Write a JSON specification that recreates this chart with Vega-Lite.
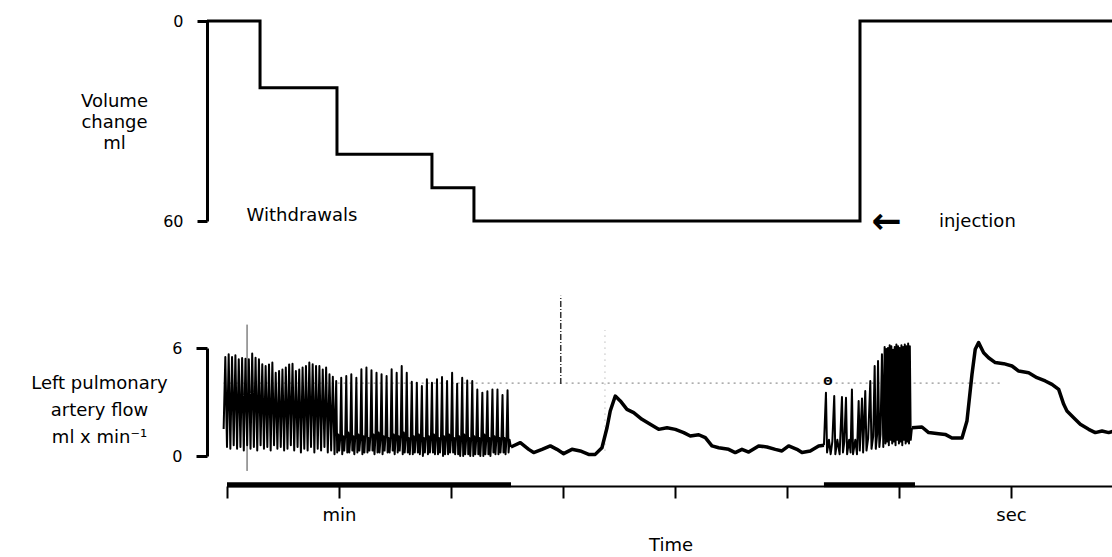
{
"$schema":"https://vega.github.io/schema/vega-lite/v6.json",
"background":"white",
"padding":{"left":30,"top":13,"right":0,"bottom":0},
"bounds":"flush",
"spacing":127,
"config":{"view":{"stroke":null},"font":"DejaVu Sans","axis":{"grid":false,"domainColor":"black","tickColor":"black","labelColor":"black","titleColor":"black","labelFont":"DejaVu Sans","titleFont":"DejaVu Sans"},"text":{"font":"DejaVu Sans","color":"black"}},
"datasets":{
"volume":[{"t":-1.79,"volume":0},{"t":2.95,"volume":20},{"t":9.82,"volume":40},{"t":18.3,"volume":50},{"t":22.05,"volume":60},{"t":56.52,"volume":0},{"t":79.2,"volume":0}],
"pulsatile":[
{"seg":"a","t":-0.3,"flow":1.5},{"seg":"a","t":-0.15,"flow":5.5},{"seg":"a","t":0,"flow":0.5},{"seg":"a","t":0.15,"flow":5.65},{"seg":"a","t":0.3,"flow":0.4},{"seg":"a","t":0.45,"flow":5.5},{"seg":"a","t":0.6,"flow":0.6},{"seg":"a","t":0.75,"flow":5.6},{"seg":"a","t":0.9,"flow":0.4},{"seg":"a","t":1.05,"flow":5.37},{"seg":"a","t":1.2,"flow":0.5},{"seg":"a","t":1.35,"flow":5.45},{"seg":"a","t":1.5,"flow":0.3},{"seg":"a","t":1.65,"flow":5.4},{"seg":"a","t":1.8,"flow":0.6},{"seg":"a","t":1.95,"flow":5.37},{"seg":"a","t":2.1,"flow":0.4},{"seg":"a","t":2.25,"flow":5.7},{"seg":"a","t":2.4,"flow":0.5},{"seg":"a","t":2.55,"flow":5.46},{"seg":"a","t":2.7,"flow":0.3},{"seg":"a","t":2.85,"flow":5.37},{"seg":"a","t":3.0,"flow":0.6},{"seg":"a","t":3.15,"flow":5.1},{"seg":"a","t":3.3,"flow":0.4},{"seg":"a","t":3.45,"flow":5.0},{"seg":"a","t":3.6,"flow":0.5},{"seg":"a","t":3.75,"flow":5.09},{"seg":"a","t":3.9,"flow":0.3},{"seg":"a","t":4.05,"flow":5.19},{"seg":"a","t":4.2,"flow":0.6},{"seg":"a","t":4.35,"flow":4.63},{"seg":"a","t":4.5,"flow":0.4},{"seg":"a","t":4.65,"flow":4.72},{"seg":"a","t":4.8,"flow":0.5},{"seg":"a","t":4.95,"flow":4.8},{"seg":"a","t":5.1,"flow":0.3},{"seg":"a","t":5.25,"flow":4.91},{"seg":"a","t":5.4,"flow":0.4},{"seg":"a","t":5.55,"flow":5.09},{"seg":"a","t":5.7,"flow":0.6},{"seg":"a","t":5.85,"flow":5.13},{"seg":"a","t":6.0,"flow":0.3},{"seg":"a","t":6.15,"flow":4.72},{"seg":"a","t":6.3,"flow":0.5},{"seg":"a","t":6.45,"flow":4.8},{"seg":"a","t":6.6,"flow":0.2},{"seg":"a","t":6.75,"flow":4.91},{"seg":"a","t":6.9,"flow":0.4},{"seg":"a","t":7.05,"flow":5.0},{"seg":"a","t":7.2,"flow":0.3},{"seg":"a","t":7.35,"flow":5.19},{"seg":"a","t":7.5,"flow":0.5},{"seg":"a","t":7.65,"flow":5.1},{"seg":"a","t":7.8,"flow":0.2},{"seg":"a","t":7.95,"flow":5.0},{"seg":"a","t":8.1,"flow":0.4},{"seg":"a","t":8.25,"flow":5.0},{"seg":"a","t":8.4,"flow":0.3},{"seg":"a","t":8.55,"flow":4.8},{"seg":"a","t":8.7,"flow":0.5},{"seg":"a","t":8.85,"flow":4.91},{"seg":"a","t":9.0,"flow":0.2},{"seg":"a","t":9.15,"flow":4.54},{"seg":"a","t":9.3,"flow":0.3},{"seg":"a","t":9.45,"flow":4.4},{"seg":"a","t":9.6,"flow":0.1},
{"seg":"a","t":9.75,"flow":4.17},{"seg":"a","t":9.84,"flow":0.2},{"seg":"a","t":9.93,"flow":1.2},{"seg":"a","t":10.02,"flow":0.3},{"seg":"a","t":10.11,"flow":1.0},
{"seg":"a","t":10.2,"flow":4.35},{"seg":"a","t":10.29,"flow":0.1},{"seg":"a","t":10.38,"flow":1.1},{"seg":"a","t":10.47,"flow":0.3},{"seg":"a","t":10.56,"flow":1.2},
{"seg":"a","t":10.65,"flow":4.45},{"seg":"a","t":10.74,"flow":0.2},{"seg":"a","t":10.83,"flow":1.3},{"seg":"a","t":10.92,"flow":0.2},{"seg":"a","t":11.01,"flow":1.0},
{"seg":"a","t":11.1,"flow":4.54},{"seg":"a","t":11.19,"flow":0.3},{"seg":"a","t":11.28,"flow":1.1},{"seg":"a","t":11.37,"flow":0.1},{"seg":"a","t":11.46,"flow":1.2},
{"seg":"a","t":11.55,"flow":4.35},{"seg":"a","t":11.64,"flow":0.2},{"seg":"a","t":11.73,"flow":1.2},{"seg":"a","t":11.82,"flow":0.3},{"seg":"a","t":11.91,"flow":1.0},
{"seg":"a","t":12.0,"flow":4.82},{"seg":"a","t":12.09,"flow":0.1},{"seg":"a","t":12.18,"flow":1.1},{"seg":"a","t":12.27,"flow":0.2},{"seg":"a","t":12.36,"flow":1.3},
{"seg":"a","t":12.45,"flow":4.91},{"seg":"a","t":12.54,"flow":0.2},{"seg":"a","t":12.63,"flow":1.0},{"seg":"a","t":12.72,"flow":0.3},{"seg":"a","t":12.81,"flow":1.2},
{"seg":"a","t":12.9,"flow":4.76},{"seg":"a","t":12.99,"flow":0.3},{"seg":"a","t":13.08,"flow":1.2},{"seg":"a","t":13.17,"flow":0.1},{"seg":"a","t":13.26,"flow":1.1},
{"seg":"a","t":13.35,"flow":4.63},{"seg":"a","t":13.44,"flow":0.2},{"seg":"a","t":13.53,"flow":1.3},{"seg":"a","t":13.62,"flow":0.2},{"seg":"a","t":13.71,"flow":1.0},
{"seg":"a","t":13.8,"flow":4.54},{"seg":"a","t":13.89,"flow":0.1},{"seg":"a","t":13.98,"flow":1.1},{"seg":"a","t":14.07,"flow":0.3},{"seg":"a","t":14.16,"flow":1.2},
{"seg":"a","t":14.25,"flow":4.44},{"seg":"a","t":14.34,"flow":0.2},{"seg":"a","t":14.43,"flow":1.0},{"seg":"a","t":14.52,"flow":0.2},{"seg":"a","t":14.61,"flow":1.1},
{"seg":"a","t":14.7,"flow":4.82},{"seg":"a","t":14.79,"flow":0.3},{"seg":"a","t":14.88,"flow":1.2},{"seg":"a","t":14.97,"flow":0.1},{"seg":"a","t":15.06,"flow":1.0},
{"seg":"a","t":15.15,"flow":4.63},{"seg":"a","t":15.24,"flow":0.2},{"seg":"a","t":15.33,"flow":1.1},{"seg":"a","t":15.42,"flow":0.3},{"seg":"a","t":15.51,"flow":1.2},
{"seg":"a","t":15.6,"flow":5.0},{"seg":"a","t":15.69,"flow":0.1},{"seg":"a","t":15.78,"flow":1.3},{"seg":"a","t":15.87,"flow":0.2},{"seg":"a","t":15.96,"flow":1.0},
{"seg":"a","t":16.05,"flow":4.63},{"seg":"a","t":16.14,"flow":0.2},{"seg":"a","t":16.23,"flow":1.0},{"seg":"a","t":16.32,"flow":0.1},{"seg":"a","t":16.41,"flow":1.1},
{"seg":"a","t":16.5,"flow":4.13},{"seg":"a","t":16.59,"flow":0.1},{"seg":"a","t":16.68,"flow":1.1},{"seg":"a","t":16.77,"flow":0.2},{"seg":"a","t":16.86,"flow":1.0},
{"seg":"a","t":16.95,"flow":4.07},{"seg":"a","t":17.04,"flow":0.2},{"seg":"a","t":17.13,"flow":1.2},{"seg":"a","t":17.22,"flow":0.1},{"seg":"a","t":17.31,"flow":1.0},
{"seg":"a","t":17.4,"flow":3.89},{"seg":"a","t":17.49,"flow":0.0},{"seg":"a","t":17.58,"flow":1.0},{"seg":"a","t":17.67,"flow":0.2},{"seg":"a","t":17.76,"flow":1.1},
{"seg":"a","t":17.85,"flow":4.26},{"seg":"a","t":17.94,"flow":0.1},{"seg":"a","t":18.03,"flow":1.1},{"seg":"a","t":18.12,"flow":0.2},{"seg":"a","t":18.21,"flow":1.0},
{"seg":"a","t":18.3,"flow":4.07},{"seg":"a","t":18.39,"flow":0.2},{"seg":"a","t":18.48,"flow":1.2},{"seg":"a","t":18.57,"flow":0.1},{"seg":"a","t":18.66,"flow":1.0},
{"seg":"a","t":18.75,"flow":4.26},{"seg":"a","t":18.84,"flow":0.1},{"seg":"a","t":18.93,"flow":1.0},{"seg":"a","t":19.02,"flow":0.2},{"seg":"a","t":19.11,"flow":1.1},
{"seg":"a","t":19.2,"flow":4.39},{"seg":"a","t":19.29,"flow":0.0},{"seg":"a","t":19.38,"flow":1.1},{"seg":"a","t":19.47,"flow":0.1},{"seg":"a","t":19.56,"flow":1.0},
{"seg":"a","t":19.65,"flow":4.17},{"seg":"a","t":19.74,"flow":0.1},{"seg":"a","t":19.83,"flow":1.2},{"seg":"a","t":19.92,"flow":0.2},{"seg":"a","t":20.01,"flow":1.0},
{"seg":"a","t":20.1,"flow":4.63},{"seg":"a","t":20.19,"flow":0.2},{"seg":"a","t":20.28,"flow":1.0},{"seg":"a","t":20.37,"flow":0.1},{"seg":"a","t":20.46,"flow":1.1},
{"seg":"a","t":20.55,"flow":4.02},{"seg":"a","t":20.64,"flow":0.1},{"seg":"a","t":20.73,"flow":1.1},{"seg":"a","t":20.82,"flow":0.0},{"seg":"a","t":20.91,"flow":1.0},
{"seg":"a","t":21.0,"flow":4.35},{"seg":"a","t":21.09,"flow":0.0},{"seg":"a","t":21.18,"flow":1.2},{"seg":"a","t":21.27,"flow":0.1},{"seg":"a","t":21.36,"flow":1.0},
{"seg":"a","t":21.45,"flow":4.2},{"seg":"a","t":21.54,"flow":0.1},{"seg":"a","t":21.63,"flow":1.0},{"seg":"a","t":21.72,"flow":0.0},{"seg":"a","t":21.81,"flow":1.1},
{"seg":"a","t":21.9,"flow":4.17},{"seg":"a","t":21.99,"flow":0.0},{"seg":"a","t":22.08,"flow":1.1},{"seg":"a","t":22.17,"flow":0.1},{"seg":"a","t":22.26,"flow":1.0},
{"seg":"a","t":22.35,"flow":3.7},{"seg":"a","t":22.44,"flow":0.1},{"seg":"a","t":22.53,"flow":1.0},{"seg":"a","t":22.62,"flow":0.0},{"seg":"a","t":22.71,"flow":1.1},
{"seg":"a","t":22.8,"flow":3.52},{"seg":"a","t":22.89,"flow":0.0},{"seg":"a","t":22.98,"flow":1.2},{"seg":"a","t":23.07,"flow":0.1},{"seg":"a","t":23.16,"flow":1.0},
{"seg":"a","t":23.25,"flow":3.6},{"seg":"a","t":23.34,"flow":0.1},{"seg":"a","t":23.43,"flow":1.0},{"seg":"a","t":23.52,"flow":0.0},{"seg":"a","t":23.61,"flow":1.1},
{"seg":"a","t":23.7,"flow":3.7},{"seg":"a","t":23.79,"flow":0.2},{"seg":"a","t":23.88,"flow":1.1},{"seg":"a","t":23.97,"flow":0.1},{"seg":"a","t":24.06,"flow":1.0},
{"seg":"a","t":24.15,"flow":3.7},{"seg":"a","t":24.24,"flow":0.1},{"seg":"a","t":24.33,"flow":1.0},{"seg":"a","t":24.42,"flow":0.2},{"seg":"a","t":24.51,"flow":1.1},
{"seg":"a","t":24.6,"flow":3.39},{"seg":"a","t":24.69,"flow":0.2},{"seg":"a","t":24.78,"flow":1.0},{"seg":"a","t":24.87,"flow":0.1},{"seg":"a","t":24.96,"flow":1.0},
{"seg":"a","t":25.05,"flow":3.65},{"seg":"a","t":25.14,"flow":0.2},{"seg":"a","t":25.23,"flow":0.9},{"seg":"a","t":25.35,"flow":0.5},
{"seg":"c","t":53.3,"flow":0.6},{"seg":"c","t":53.48,"flow":3.52},{"seg":"c","t":53.58,"flow":0.2},{"seg":"c","t":53.75,"flow":0.9},{"seg":"c","t":53.9,"flow":0.1},{"seg":"c","t":54.05,"flow":0.8},{"seg":"c","t":54.22,"flow":3.33},{"seg":"c","t":54.32,"flow":0.1},{"seg":"c","t":54.5,"flow":0.9},{"seg":"c","t":54.7,"flow":0.1},{"seg":"c","t":54.91,"flow":3.28},{"seg":"c","t":55.0,"flow":0.2},{"seg":"c","t":55.12,"flow":0.8},{"seg":"c","t":55.27,"flow":3.24},{"seg":"c","t":55.37,"flow":0.1},{"seg":"c","t":55.55,"flow":0.9},{"seg":"c","t":55.68,"flow":0.2},{"seg":"c","t":55.8,"flow":3.7},{"seg":"c","t":55.9,"flow":0.1},{"seg":"c","t":56.1,"flow":0.9},{"seg":"c","t":56.25,"flow":0.1},{"seg":"c","t":56.4,"flow":3.06},{"seg":"c","t":56.5,"flow":0.3},{"seg":"c","t":56.7,"flow":3.2},{"seg":"c","t":56.8,"flow":0.2},{"seg":"c","t":56.99,"flow":3.61},{"seg":"c","t":57.1,"flow":0.3},{"seg":"c","t":57.25,"flow":1.0},{"seg":"c","t":57.44,"flow":4.17},{"seg":"c","t":57.55,"flow":0.4},{"seg":"c","t":57.7,"flow":1.1},{"seg":"c","t":57.83,"flow":5.0},{"seg":"c","t":57.93,"flow":0.4},{"seg":"c","t":58.05,"flow":1.2},{"seg":"c","t":58.13,"flow":5.28},{"seg":"c","t":58.25,"flow":0.5},{"seg":"c","t":58.35,"flow":1.2},{"seg":"c","t":58.48,"flow":5.65},{"seg":"c","t":58.6,"flow":0.5},
{"seg":"c","t":58.72,"flow":6.06},{"seg":"c","t":58.795,"flow":0.7},{"seg":"c","t":58.87,"flow":5.95},{"seg":"c","t":58.945,"flow":0.8},{"seg":"c","t":59.02,"flow":6.0},{"seg":"c","t":59.095,"flow":0.6},{"seg":"c","t":59.17,"flow":6.15},{"seg":"c","t":59.245,"flow":0.9},{"seg":"c","t":59.32,"flow":6.1},{"seg":"c","t":59.395,"flow":0.7},{"seg":"c","t":59.47,"flow":5.9},{"seg":"c","t":59.545,"flow":0.8},{"seg":"c","t":59.62,"flow":6.05},{"seg":"c","t":59.695,"flow":0.6},{"seg":"c","t":59.77,"flow":6.2},{"seg":"c","t":59.845,"flow":0.9},{"seg":"c","t":59.92,"flow":6.1},{"seg":"c","t":59.995,"flow":0.7},{"seg":"c","t":60.07,"flow":6.0},{"seg":"c","t":60.145,"flow":0.8},{"seg":"c","t":60.22,"flow":6.15},{"seg":"c","t":60.295,"flow":0.6},{"seg":"c","t":60.37,"flow":6.05},{"seg":"c","t":60.445,"flow":0.9},{"seg":"c","t":60.52,"flow":6.2},{"seg":"c","t":60.595,"flow":0.7},{"seg":"c","t":60.67,"flow":6.1},{"seg":"c","t":60.745,"flow":0.8},{"seg":"c","t":60.82,"flow":6.25},{"seg":"c","t":60.895,"flow":0.7},{"seg":"c","t":60.97,"flow":6.1},{"seg":"c","t":61.05,"flow":0.9},{"seg":"c","t":61.16,"flow":1.57}
],
"steady":[
{"seg":"b","t":25.35,"flow":0.5},{"seg":"b","t":26.19,"flow":0.74},{"seg":"b","t":26.94,"flow":0.37},{"seg":"b","t":27.38,"flow":0.19},{"seg":"b","t":28.13,"flow":0.37},{"seg":"b","t":28.87,"flow":0.56},{"seg":"b","t":29.46,"flow":0.37},{"seg":"b","t":30.06,"flow":0.13},{"seg":"b","t":30.8,"flow":0.37},{"seg":"b","t":31.54,"flow":0.28},{"seg":"b","t":32.29,"flow":0.09},{"seg":"b","t":32.88,"flow":0.09},{"seg":"b","t":33.48,"flow":0.46},{"seg":"b","t":33.93,"flow":1.57},{"seg":"b","t":34.22,"flow":2.5},{"seg":"b","t":34.67,"flow":3.33},{"seg":"b","t":35.12,"flow":3.06},{"seg":"b","t":35.71,"flow":2.59},{"seg":"b","t":36.31,"flow":2.41},{"seg":"b","t":37.05,"flow":2.04},{"seg":"b","t":37.79,"flow":1.76},{"seg":"b","t":38.54,"flow":1.48},{"seg":"b","t":39.29,"flow":1.57},{"seg":"b","t":40.03,"flow":1.48},{"seg":"b","t":40.78,"flow":1.3},{"seg":"b","t":41.37,"flow":1.11},{"seg":"b","t":42.12,"flow":1.18},{"seg":"b","t":42.71,"flow":1.02},{"seg":"b","t":43.3,"flow":0.56},{"seg":"b","t":43.9,"flow":0.46},{"seg":"b","t":44.79,"flow":0.37},{"seg":"b","t":45.38,"flow":0.19},{"seg":"b","t":45.98,"flow":0.37},{"seg":"b","t":46.58,"flow":0.22},{"seg":"b","t":47.47,"flow":0.56},{"seg":"b","t":48.21,"flow":0.5},{"seg":"b","t":48.96,"flow":0.37},{"seg":"b","t":49.55,"flow":0.28},{"seg":"b","t":50.15,"flow":0.56},{"seg":"b","t":50.89,"flow":0.37},{"seg":"b","t":51.34,"flow":0.19},{"seg":"b","t":52.08,"flow":0.28},{"seg":"b","t":52.83,"flow":0.56},{"seg":"b","t":53.3,"flow":0.6},
{"seg":"d","t":61.16,"flow":1.57},{"seg":"d","t":62.05,"flow":1.61},{"seg":"d","t":62.65,"flow":1.3},{"seg":"d","t":63.54,"flow":1.24},{"seg":"d","t":64.13,"flow":1.2},{"seg":"d","t":64.73,"flow":1.0},{"seg":"d","t":65.63,"flow":1.0},{"seg":"d","t":66.07,"flow":1.94},{"seg":"d","t":66.52,"flow":4.54},{"seg":"d","t":66.81,"flow":5.93},{"seg":"d","t":67.11,"flow":6.3},{"seg":"d","t":67.56,"flow":5.74},{"seg":"d","t":68.0,"flow":5.46},{"seg":"d","t":68.6,"flow":5.19},{"seg":"d","t":69.35,"flow":5.13},{"seg":"d","t":70.09,"flow":5.0},{"seg":"d","t":70.69,"flow":4.72},{"seg":"d","t":71.58,"flow":4.63},{"seg":"d","t":72.32,"flow":4.35},{"seg":"d","t":73.06,"flow":4.17},{"seg":"d","t":73.66,"flow":3.98},{"seg":"d","t":74.26,"flow":3.7},{"seg":"d","t":74.71,"flow":2.87},{"seg":"d","t":75.0,"flow":2.5},{"seg":"d","t":75.6,"flow":2.13},{"seg":"d","t":76.19,"flow":1.76},{"seg":"d","t":76.94,"flow":1.48},{"seg":"d","t":77.53,"flow":1.3},{"seg":"d","t":78.13,"flow":1.39},{"seg":"d","t":78.72,"flow":1.3},{"seg":"d","t":79.2,"flow":1.39}
]
},
"vconcat":[
{"width":887,"height":200,
 "encoding":{
  "x":{"field":"t","type":"quantitative","scale":{"domain":[0,79.2],"nice":false,"zero":false},"axis":null},
  "y":{"field":"volume","type":"quantitative","scale":{"domain":[0,60],"reverse":true,"nice":false,"zero":false},
   "axis":{"values":[0,60],"offset":20,"tickSize":10,"tickWidth":3,"domainWidth":3,"labelFontSize":16,"labelPadding":14,"title":["Volume","change","ml"],"titleAngle":0,"titleAlign":"center","titleBaseline":"middle","titleX":-93,"titleY":80,"titleFontSize":18,"titleFontWeight":"normal","titleLineHeight":21}}},
 "layer":[
  {"data":{"name":"volume"},"mark":{"type":"line","interpolate":"step-after","color":"black","strokeWidth":3}},
  {"data":{"values":[{"t":6.7,"volume":58.5,"label":"Withdrawals"}]},"mark":{"type":"text","fontSize":18,"align":"center","baseline":"middle"},"encoding":{"text":{"field":"label"}}},
  {"data":{"values":[{"t":58.9,"volume":60.3,"label":"←"}]},"mark":{"type":"text","fontSize":36,"fontWeight":"bold","align":"center","baseline":"middle"},"encoding":{"text":{"field":"label"}}},
  {"data":{"values":[{"t":67.0,"volume":60.3,"label":"injection"}]},"mark":{"type":"text","fontSize":18,"align":"center","baseline":"middle"},"encoding":{"text":{"field":"label"}}}
 ]},
{"width":887,"height":108,
 "encoding":{
  "x":{"field":"t","type":"quantitative","scale":{"domain":[0,79.2],"nice":false,"zero":false},
   "axis":{"values":[0,10,20,30,40,50,60,70],"offset":30,"tickSize":12,"tickWidth":2,"domainWidth":2,"labelExpr":"datum.value == 10 ? 'min' : (datum.value == 70 ? 'sec' : '')","labelFontSize":18,"labelPadding":8,"labelFlush":false,"labelOverlap":false,"title":"Time","titleFontSize":18,"titleFontWeight":"normal","titlePadding":12}},
  "y":{"field":"flow","type":"quantitative","scale":{"domain":[0,6],"nice":false,"zero":false},
   "axis":{"values":[0,6],"offset":20,"tickSize":11,"tickWidth":3,"domainWidth":3,"labelFontSize":16,"labelPadding":14,"title":["Left pulmonary","artery flow","ml x min⁻¹"],"titleAngle":0,"titleAlign":"center","titleBaseline":"middle","titleX":-108,"titleY":35,"titleFontSize":18,"titleFontWeight":"normal","titleLineHeight":27}}},
 "layer":[
  {"data":{"values":[{"t":-0.3,"t2":69,"flow":4.05}]},"mark":{"type":"rule","color":"#777","strokeWidth":1,"strokeDash":[2,4]},"encoding":{"x2":{"field":"t2"}}},
  {"data":{"values":[{"t":1.79,"flow":-0.83,"flow2":7.3}]},"mark":{"type":"rule","color":"#444","strokeWidth":1},"encoding":{"y2":{"field":"flow2"}}},
  {"data":{"values":[{"t":29.8,"flow":4.0,"flow2":8.9}]},"mark":{"type":"rule","color":"#333","strokeWidth":1.5,"strokeDash":[6,2,1,2]},"encoding":{"y2":{"field":"flow2"}}},
  {"data":{"values":[{"t":33.75,"flow":0.3,"flow2":7.0}]},"mark":{"type":"rule","color":"#999","strokeWidth":1,"strokeDash":[1,5]},"encoding":{"y2":{"field":"flow2"}}},
  {"data":{"name":"pulsatile"},"mark":{"type":"line","color":"black","strokeWidth":2,"strokeJoin":"round"},"encoding":{"detail":{"field":"seg"}}},
  {"data":{"name":"steady"},"mark":{"type":"line","color":"black","strokeWidth":3.5,"strokeJoin":"round"},"encoding":{"detail":{"field":"seg"}}},
  {"data":{"values":[{"t":0,"t2":25.36,"flow":-1.6},{"t":53.3,"t2":61.43,"flow":-1.6}]},"mark":{"type":"rule","color":"black","strokeWidth":5},"encoding":{"x2":{"field":"t2"}}},
  {"data":{"values":[{"t":53.66,"flow":4.1,"label":"Θ"}]},"mark":{"type":"text","fontSize":11,"fontWeight":"bold","align":"center","baseline":"middle"},"encoding":{"text":{"field":"label"}}}
 ]}
]
}
